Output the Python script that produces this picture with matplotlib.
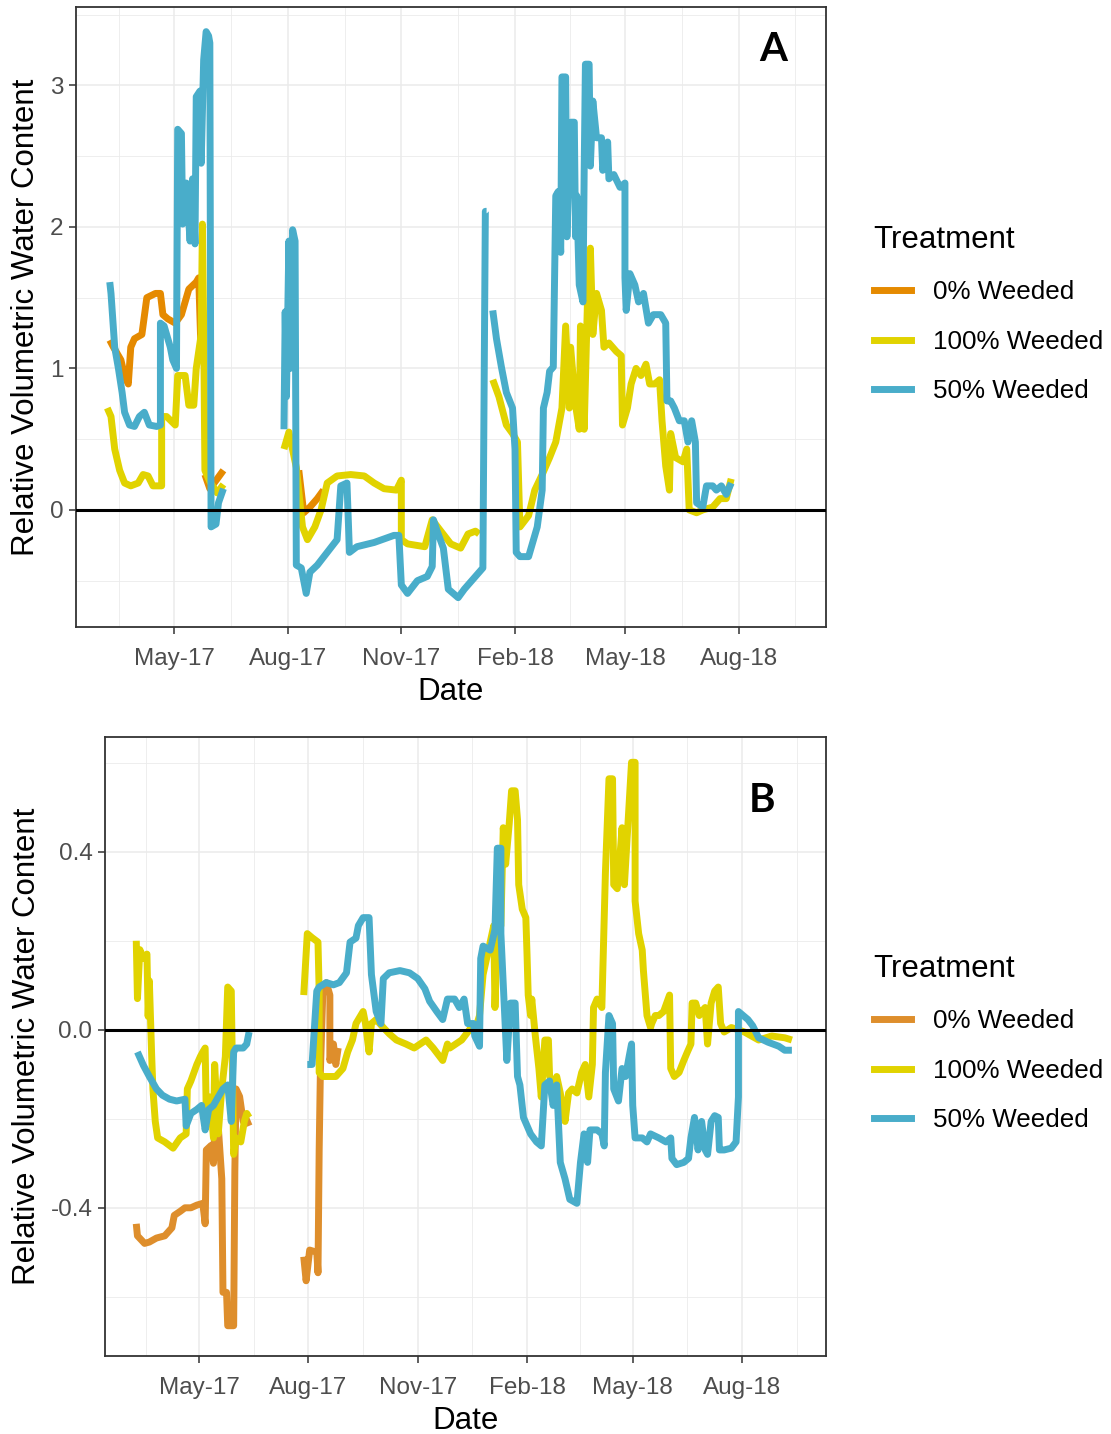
import numpy as np
import pandas as pd
import matplotlib

matplotlib.use("Agg")
import matplotlib.pyplot as plt
import matplotlib.dates as mdates
from matplotlib.lines import Line2D

plt.rcParams["font.family"] = ["Liberation Sans", "DejaVu Sans"]

TREATMENTS = ["0% Weeded", "100% Weeded", "50% Weeded"]

# ---- panel A: relative VWC, gaps marked with None ----
a_w0_dates = [
    "2017-03-10", "2017-03-13", "2017-03-19", "2017-03-22", "2017-03-25", "2017-03-27",
    "2017-03-30", "2017-04-05", "2017-04-09", "2017-04-16", "2017-04-20", "2017-04-22",
    "2017-04-26", "2017-05-02", "2017-05-07", "2017-05-13", "2017-05-19", "2017-05-21",
    "2017-05-23", "2017-05-24", "2017-05-26", "2017-05-30", "2017-06-05", "2017-06-10",
    "2017-07-01", "2017-08-10", "2017-08-14", "2017-08-19", "2017-08-25", "2017-08-30",
]
a_w0_vals = [
    1.20, 1.15, 1.06, 0.95, 0.89, 1.15,
    1.21, 1.24, 1.50, 1.53, 1.53, 1.38,
    1.35, 1.32, 1.38, 1.56, 1.61, 1.64,
    1.09, None, 0.25, 0.15, 0.22, 0.28,
    None, 0.28, -0.02, 0.02, 0.08, 0.14,
]

a_w100_dates = [
    "2017-03-08", "2017-03-11", "2017-03-14", "2017-03-18", "2017-03-22", "2017-03-27",
    "2017-04-02", "2017-04-06", "2017-04-10", "2017-04-14", "2017-04-21", "2017-04-21",
    "2017-04-25", "2017-05-02", "2017-05-04", "2017-05-10", "2017-05-13", "2017-05-17",
    "2017-05-19", "2017-05-23", "2017-05-24", "2017-05-25", "2017-05-26", "2017-05-30",
    "2017-06-05", "2017-06-10", "2017-07-01",
    "2017-07-29", "2017-08-02", "2017-08-08", "2017-08-13", "2017-08-17", "2017-08-23",
    "2017-08-28", "2017-09-02", "2017-09-10", "2017-09-21", "2017-10-02", "2017-10-10",
    "2017-10-18", "2017-10-28", "2017-11-01", "2017-11-01", "2017-11-06", "2017-11-20",
    "2017-11-26", "2017-12-03", "2017-12-11", "2017-12-19", "2017-12-25", "2017-12-31",
    "2018-01-03", "2018-01-08",
    "2018-01-14", "2018-01-19", "2018-01-25", "2018-01-30", "2018-02-03", "2018-02-05",
    "2018-02-12", "2018-02-17", "2018-02-23", "2018-03-01", "2018-03-06", "2018-03-11",
    "2018-03-14", "2018-03-17", "2018-03-18", "2018-03-22", "2018-03-25", "2018-03-26",
    "2018-03-29", "2018-04-01", "2018-04-03", "2018-04-05", "2018-04-08", "2018-04-12",
    "2018-04-14", "2018-04-18", "2018-04-24", "2018-04-28", "2018-04-29", "2018-05-03",
    "2018-05-06", "2018-05-10", "2018-05-14", "2018-05-18", "2018-05-21", "2018-05-25",
    "2018-05-29", "2018-05-31", "2018-06-03", "2018-06-06", "2018-06-07", "2018-06-11",
    "2018-06-17", "2018-06-20", "2018-06-22", "2018-06-28", "2018-07-03", "2018-07-11",
    "2018-07-17", "2018-07-22", "2018-07-26",
]
a_w100_vals = [
    0.72, 0.66, 0.43, 0.28, 0.19, 0.17,
    0.19, 0.25, 0.24, 0.17, 0.17, 0.66,
    0.66, 0.60, 0.95, 0.95, 0.74, 0.74,
    1.00, 1.24, 2.02, 1.30, 0.28, 0.20,
    0.12, 0.18, None,
    0.43, 0.55, 0.30, -0.12, -0.21, -0.12,
    0.00, 0.19, 0.24, 0.25, 0.24, 0.19,
    0.15, 0.14, 0.21, -0.21, -0.24, -0.26,
    -0.07, -0.15, -0.24, -0.27, -0.17, -0.15,
    -0.17, None,
    0.92, 0.80, 0.60, 0.54, 0.48, -0.12,
    -0.04, 0.14, 0.25, 0.37, 0.48, 0.72,
    1.30, 0.72, 1.15, 0.74, 0.57, 1.30,
    0.57, 1.59, 1.85, 1.24, 1.53, 1.41,
    1.15, 1.18, 1.12, 1.09, 0.60, 0.72,
    0.89, 1.00, 0.95, 1.03, 0.89, 0.89,
    0.92, 0.63, 0.31, 0.14, 0.54, 0.37,
    0.34, 0.43, 0.00, -0.02, 0.00, 0.02,
    0.08, 0.08, 0.22,
]

a_w50_dates = [
    "2017-03-10", "2017-03-11", "2017-03-14", "2017-03-17", "2017-03-20", "2017-03-22",
    "2017-03-26", "2017-03-30", "2017-04-03", "2017-04-07", "2017-04-11", "2017-04-17",
    "2017-04-20", "2017-04-20", "2017-04-23", "2017-04-28", "2017-04-30", "2017-05-03",
    "2017-05-04", "2017-05-07", "2017-05-08", "2017-05-11", "2017-05-14", "2017-05-16",
    "2017-05-18", "2017-05-19", "2017-05-22", "2017-05-23", "2017-05-25", "2017-05-27",
    "2017-05-29", "2017-05-30", "2017-05-31", "2017-06-04", "2017-06-06", "2017-06-10",
    "2017-07-01",
    "2017-07-29", "2017-07-30", "2017-07-31", "2017-08-02", "2017-08-03", "2017-08-05",
    "2017-08-07", "2017-08-08", "2017-08-12", "2017-08-16", "2017-08-19", "2017-08-25",
    "2017-09-02", "2017-09-10", "2017-09-13", "2017-09-18", "2017-09-20", "2017-09-26",
    "2017-10-10", "2017-10-26", "2017-10-30", "2017-11-01", "2017-11-06", "2017-11-14",
    "2017-11-22", "2017-11-26", "2017-11-27", "2017-11-30", "2017-12-05", "2017-12-09",
    "2017-12-17", "2017-12-22", "2017-12-31", "2018-01-06", "2018-01-08", "2018-01-09",
    "2018-01-11",
    "2018-01-14", "2018-01-17", "2018-01-21", "2018-01-25", "2018-01-30", "2018-02-01",
    "2018-02-02", "2018-02-05", "2018-02-12", "2018-02-15", "2018-02-19", "2018-02-23",
    "2018-02-24", "2018-02-27", "2018-03-01", "2018-03-04", "2018-03-06", "2018-03-08",
    "2018-03-10", "2018-03-11", "2018-03-14", "2018-03-15", "2018-03-18", "2018-03-21",
    "2018-03-22", "2018-03-23", "2018-03-25", "2018-03-28", "2018-03-29", "2018-03-30",
    "2018-04-02", "2018-04-03", "2018-04-05", "2018-04-08", "2018-04-12", "2018-04-13",
    "2018-04-17", "2018-04-18", "2018-04-22", "2018-04-27", "2018-05-01", "2018-05-01",
    "2018-05-02", "2018-05-05", "2018-05-09", "2018-05-12", "2018-05-16", "2018-05-20",
    "2018-05-24", "2018-05-30", "2018-06-03", "2018-06-04", "2018-06-07", "2018-06-10",
    "2018-06-14", "2018-06-18", "2018-06-21", "2018-06-24", "2018-06-27", "2018-06-28",
    "2018-07-03", "2018-07-06", "2018-07-11", "2018-07-14", "2018-07-18", "2018-07-22",
    "2018-07-26",
]
a_w50_vals = [
    1.61, 1.53, 1.15, 1.00, 0.83, 0.69,
    0.60, 0.59, 0.66, 0.69, 0.60, 0.59,
    0.60, 1.32, 1.30, 1.15, 1.06, 1.00,
    2.69, 2.66, 2.02, 2.31, 1.90, 2.34,
    1.88, 2.92, 2.96, 2.45, 3.18, 3.38,
    3.35, 3.30, -0.12, -0.10, 0.05, 0.15,
    None,
    0.57, 1.40, 0.80, 1.90, 1.00, 1.98,
    1.90, -0.39, -0.41, -0.59, -0.44, -0.39,
    -0.30, -0.21, 0.17, 0.19, -0.30, -0.26,
    -0.23, -0.18, -0.18, -0.53, -0.59, -0.50,
    -0.47, -0.40, -0.07, -0.15, -0.27, -0.56,
    -0.62, -0.56, -0.47, -0.41, 2.11, 2.11,
    None,
    1.41, 1.21, 1.01, 0.83, 0.72, 0.43,
    -0.30, -0.33, -0.33, -0.24, -0.12, 0.14,
    0.72, 0.83, 0.98, 1.01, 2.22, 2.25,
    1.82, 3.06, 3.06, 1.93, 2.74, 2.74,
    1.93, 2.22, 1.59, 1.47, 2.40, 3.15,
    3.15, 2.43, 2.89, 2.63, 2.63, 2.40,
    2.60, 2.34, 2.37, 2.28, 2.31, 1.64,
    1.41, 1.67, 1.59, 1.47, 1.53, 1.32,
    1.38, 1.38, 1.32, 0.77, 0.77, 0.72,
    0.63, 0.63, 0.48, 0.63, 0.48, 0.05,
    0.02, 0.17, 0.17, 0.14, 0.17, 0.11,
    0.19,
]

# ---- panel B ----
b_w0_dates = [
    "2017-03-09", "2017-03-10", "2017-03-16", "2017-03-20", "2017-03-26", "2017-04-02",
    "2017-04-08", "2017-04-10", "2017-04-15", "2017-04-19", "2017-04-24", "2017-04-29",
    "2017-05-04", "2017-05-06", "2017-05-07", "2017-05-11", "2017-05-13", "2017-05-14",
    "2017-05-17", "2017-05-20", "2017-05-21", "2017-05-24", "2017-05-25", "2017-05-30",
    "2017-05-31", "2017-06-01", "2017-06-04", "2017-06-07", "2017-06-09", "2017-06-12",
    "2017-07-01",
    "2017-07-28", "2017-07-30", "2017-08-02", "2017-08-08", "2017-08-09", "2017-08-10",
    "2017-08-11", "2017-08-13", "2017-08-16", "2017-08-19", "2017-08-19", "2017-08-22",
    "2017-08-24", "2017-08-26",
]
b_w0_vals = [
    -0.436, -0.463, -0.480, -0.477, -0.468, -0.463,
    -0.445, -0.417, -0.408, -0.400, -0.400, -0.394,
    -0.390, -0.436, -0.270, -0.260, -0.300, -0.225,
    -0.216, -0.335, -0.590, -0.590, -0.665, -0.665,
    -0.317, -0.133, -0.150, -0.206, -0.197, -0.216,
    None,
    -0.510, -0.564, -0.495, -0.500, -0.546, -0.270,
    -0.096, 0.078, 0.106, 0.078, -0.069, -0.032,
    -0.078, -0.041,
]

b_w100_dates = [
    "2017-03-09", "2017-03-10", "2017-03-12", "2017-03-15", "2017-03-18", "2017-03-19",
    "2017-03-20", "2017-03-22", "2017-03-23", "2017-03-25", "2017-03-27", "2017-04-02",
    "2017-04-09", "2017-04-15", "2017-04-20", "2017-04-21", "2017-04-24", "2017-04-29",
    "2017-05-02", "2017-05-04", "2017-05-06", "2017-05-07", "2017-05-10", "2017-05-13",
    "2017-05-14", "2017-05-17", "2017-05-20", "2017-05-23", "2017-05-25", "2017-05-28",
    "2017-05-30", "2017-06-01", "2017-06-05", "2017-06-08", "2017-06-10", "2017-06-12",
    "2017-07-01",
    "2017-07-28", "2017-07-31", "2017-08-04", "2017-08-09", "2017-08-10", "2017-08-10",
    "2017-08-13", "2017-08-19", "2017-08-24", "2017-08-30", "2017-09-03", "2017-09-07",
    "2017-09-10", "2017-09-14", "2017-09-16", "2017-09-18", "2017-09-21", "2017-09-23",
    "2017-09-27", "2017-10-03", "2017-10-08", "2017-10-14", "2017-10-22", "2017-10-29",
    "2017-11-03", "2017-11-08", "2017-11-14", "2017-11-22", "2017-11-26", "2017-11-28",
    "2017-12-03", "2017-12-08", "2017-12-12", "2017-12-16", "2017-12-21", "2017-12-23",
    "2017-12-26", "2017-12-29", "2018-01-01", "2018-01-04", "2018-01-05", "2018-01-07",
    "2018-01-10", "2018-01-12", "2018-01-14", "2018-01-17", "2018-01-19", "2018-01-22",
    "2018-01-24", "2018-01-25", "2018-01-28", "2018-01-31", "2018-02-01", "2018-02-02",
    "2018-02-04", "2018-02-05", "2018-02-08", "2018-02-11", "2018-02-13", "2018-02-16",
    "2018-02-19", "2018-02-20", "2018-02-23", "2018-02-26", "2018-03-01", "2018-03-04",
    "2018-03-05", "2018-03-08", "2018-03-11", "2018-03-15", "2018-03-19", "2018-03-22",
    "2018-03-25", "2018-03-28", "2018-03-29", "2018-04-01", "2018-04-05", "2018-04-08",
    "2018-04-11", "2018-04-14", "2018-04-15", "2018-04-18", "2018-04-21", "2018-04-22",
    "2018-04-24", "2018-04-26", "2018-04-30", "2018-05-03", "2018-05-03", "2018-05-06",
    "2018-05-09", "2018-05-10", "2018-05-13", "2018-05-16", "2018-05-17", "2018-05-20",
    "2018-05-23", "2018-05-27", "2018-06-01", "2018-06-02", "2018-06-05", "2018-06-09",
    "2018-06-13", "2018-06-16", "2018-06-19", "2018-06-20", "2018-06-23", "2018-06-26",
    "2018-06-28", "2018-07-01", "2018-07-03", "2018-07-06", "2018-07-09", "2018-07-12",
    "2018-07-14", "2018-07-17", "2018-07-23", "2018-07-29", "2018-08-03", "2018-08-09",
    "2018-08-15", "2018-08-26", "2018-09-06", "2018-09-12",
]
b_w100_vals = [
    0.200, 0.070, 0.180, 0.160, 0.170, 0.030,
    0.110, -0.060, -0.133, -0.206, -0.243, -0.252,
    -0.266, -0.243, -0.234, -0.133, -0.115, -0.078,
    -0.060, -0.050, -0.041, -0.197, -0.151, -0.243,
    -0.078, -0.234, -0.133, -0.060, 0.096, 0.087,
    -0.280, -0.243, -0.252, -0.206, -0.188, -0.197,
    None,
    0.078, 0.216, 0.207, 0.197, 0.087, -0.096,
    -0.105, -0.105, -0.105, -0.087, -0.050, -0.023,
    0.014, 0.032, 0.041, 0.014, -0.050, 0.014,
    0.023, 0.005, -0.009, -0.023, -0.032, -0.041,
    -0.032, -0.023, -0.041, -0.069, -0.032, -0.041,
    -0.032, -0.023, -0.009, 0.005, 0.014, 0.032,
    0.124, 0.160, 0.197, 0.234, 0.050, 0.216,
    0.234, 0.454, 0.372, 0.463, 0.537, 0.537,
    0.472, 0.326, 0.271, 0.252, 0.170, 0.078,
    0.032, 0.069, -0.014, -0.087, -0.151, -0.023,
    -0.023, -0.105, -0.124, -0.105, -0.142, -0.188,
    -0.206, -0.142, -0.133, -0.142, -0.096, -0.078,
    -0.151, -0.078, 0.050, 0.069, 0.050, 0.353,
    0.564, 0.564, 0.326, 0.317, 0.417, 0.454,
    0.326, 0.417, 0.601, 0.601, 0.289, 0.216,
    0.179, 0.133, 0.032, 0.005, 0.014, 0.032,
    0.032, 0.041, 0.078, -0.087, -0.105, -0.096,
    -0.069, -0.050, -0.032, 0.060, 0.060, 0.032,
    0.041, 0.050, -0.032, 0.060, 0.087, 0.096,
    0.014, -0.005, 0.005, 0.000, -0.005, -0.014,
    -0.023, -0.014, -0.018, -0.023,
]

b_w50_dates = [
    "2017-03-10", "2017-03-15", "2017-03-20", "2017-03-26", "2017-03-31", "2017-04-06",
    "2017-04-12", "2017-04-19", "2017-04-20", "2017-04-24", "2017-04-29", "2017-05-03",
    "2017-05-06", "2017-05-09", "2017-05-13", "2017-05-17", "2017-05-21", "2017-05-25",
    "2017-05-28", "2017-05-30", "2017-06-01", "2017-06-07", "2017-06-10", "2017-06-12",
    "2017-07-01",
    "2017-07-31", "2017-08-04", "2017-08-08", "2017-08-10", "2017-08-16", "2017-08-22",
    "2017-08-27", "2017-09-02", "2017-09-05", "2017-09-10", "2017-09-12", "2017-09-16",
    "2017-09-21", "2017-09-23", "2017-09-27", "2017-10-01", "2017-10-03", "2017-10-08",
    "2017-10-17", "2017-10-25", "2017-11-01", "2017-11-07", "2017-11-11", "2017-11-17",
    "2017-11-22", "2017-11-26", "2017-12-02", "2017-12-06", "2017-12-10", "2017-12-12",
    "2017-12-13", "2017-12-18", "2017-12-19", "2017-12-23", "2017-12-24", "2017-12-26",
    "2018-01-01", "2018-01-05", "2018-01-07", "2018-01-10", "2018-01-10", "2018-01-15",
    "2018-01-18", "2018-01-22", "2018-01-24", "2018-01-26", "2018-01-29", "2018-02-04",
    "2018-02-09", "2018-02-13", "2018-02-16", "2018-02-20", "2018-02-23", "2018-02-26",
    "2018-03-01", "2018-03-05", "2018-03-09", "2018-03-15", "2018-03-18", "2018-03-21",
    "2018-03-24", "2018-03-26", "2018-04-01", "2018-04-05", "2018-04-07", "2018-04-08",
    "2018-04-11", "2018-04-14", "2018-04-15", "2018-04-19", "2018-04-22", "2018-04-25",
    "2018-04-28", "2018-04-30", "2018-05-01", "2018-05-03", "2018-05-09", "2018-05-13",
    "2018-05-16", "2018-05-23", "2018-05-29", "2018-06-02", "2018-06-03", "2018-06-07",
    "2018-06-13", "2018-06-17", "2018-06-19", "2018-06-22", "2018-06-25", "2018-06-28",
    "2018-07-01", "2018-07-03", "2018-07-06", "2018-07-09", "2018-07-12", "2018-07-13",
    "2018-07-17", "2018-07-23", "2018-07-27", "2018-07-29", "2018-07-29", "2018-08-02",
    "2018-08-06", "2018-08-10", "2018-08-15", "2018-08-23", "2018-09-01", "2018-09-06",
    "2018-09-12",
]
b_w50_vals = [
    -0.050, -0.080, -0.105, -0.133, -0.147, -0.156,
    -0.160, -0.156, -0.216, -0.188, -0.179, -0.170,
    -0.225, -0.179, -0.170, -0.151, -0.133, -0.124,
    -0.206, -0.050, -0.041, -0.041, -0.032, -0.005,
    None,
    -0.078, -0.078, 0.087, 0.096, 0.106, 0.101,
    0.106, 0.128, 0.197, 0.206, 0.234, 0.252,
    0.252, 0.124, 0.041, 0.014, 0.115, 0.128,
    0.133, 0.128, 0.115, 0.092, 0.064, 0.041,
    0.023, 0.069, 0.069, 0.050, 0.069, 0.032,
    0.014, 0.014, -0.014, -0.037, 0.160, 0.188,
    0.179, 0.225, 0.408, 0.408, 0.216, -0.069,
    0.060, 0.060, -0.105, -0.124, -0.197, -0.234,
    -0.252, -0.261, -0.124, -0.115, -0.170, -0.124,
    -0.298, -0.335, -0.381, -0.390, -0.298, -0.234,
    -0.298, -0.225, -0.225, -0.234, -0.261, -0.096,
    0.032, 0.014, -0.133, -0.160, -0.087, -0.105,
    -0.060, -0.032, -0.170, -0.243, -0.243, -0.252,
    -0.234, -0.243, -0.252, -0.243, -0.289, -0.303,
    -0.298, -0.289, -0.243, -0.197, -0.270, -0.206,
    -0.270, -0.280, -0.206, -0.193, -0.197, -0.270,
    -0.270, -0.266, -0.252, -0.151, 0.041, 0.032,
    0.023, 0.009, -0.018, -0.028, -0.037, -0.046,
    -0.046,
]

COLORS_A = ["#E58A00", "#E1D300", "#49ADCA"]
COLORS_B = ["#DE8E2C", "#E1D300", "#49ADCA"]

MAJOR_DATES = pd.to_datetime(["2017-02-01", "2017-05-01", "2017-08-01", "2017-11-01",
                              "2018-02-01", "2018-05-01", "2018-08-01", "2018-11-01"])


def style_axes(ax, ylim, yticks, yminor, ylabel_x):
    ax.set_xlim(pd.Timestamp("2017-02-10 16:00"), pd.Timestamp("2018-10-10 18:00"))
    ax.set_ylim(*ylim)
    ax.xaxis.set_major_locator(mdates.MonthLocator(bymonth=[2, 5, 8, 11]))
    ax.xaxis.set_major_formatter(mdates.DateFormatter("%b-%y"))
    mids = mdates.date2num(MAJOR_DATES[:-1]) + np.diff(mdates.date2num(MAJOR_DATES)) / 2
    ax.set_xticks(mids, minor=True)
    ax.set_yticks(yticks)
    ax.set_yticks(yminor, minor=True)
    ax.grid(which="major", color="#EBEBEB", lw=1.1)
    ax.grid(which="minor", color="#EBEBEB", lw=0.6)
    ax.set_axisbelow(True)
    ax.tick_params(which="major", length=5, width=1.1, color="#333333",
                   labelsize=17.5, labelcolor="#4D4D4D")
    ax.tick_params(axis="x", which="major", pad=10)
    ax.tick_params(axis="y", which="major", pad=4)
    ax.tick_params(which="minor", length=0)
    for s in ax.spines.values():
        s.set_color("#333333")
        s.set_linewidth(1.3)
    ax.set_xlabel("Date", fontsize=22.5, labelpad=5)
    ax.set_ylabel("Relative Volumetric Water Content", fontsize=22.5)
    ax.yaxis.set_label_coords(ylabel_x, 0.5)


def draw_panel(ax, series, colors, letter, letter_xy, legend_y):
    for (dates, vals), color in zip(series, colors):
        ax.plot(pd.to_datetime(dates), np.array(vals, dtype=float), color=color,
                lw=5, solid_joinstyle="round", solid_capstyle="butt")
    ax.axhline(0, color="black", lw=2.2, zorder=5)
    ax.text(*letter_xy, letter, transform=ax.transAxes, fontsize=29, fontweight="bold",
            family=["Lato", "DejaVu Sans"], ha="center", va="center")
    handles = [Line2D([], [], color=c, lw=5) for c in colors]
    ax.legend(handles, TREATMENTS, title="Treatment", frameon=False,
              loc="center left", bbox_to_anchor=(0.777, legend_y),
              bbox_transform=ax.figure.transFigure, fontsize=18.7,
              title_fontsize=22.5, handlelength=1.45, handletextpad=0.85,
              labelspacing=0.97, alignment="left", borderaxespad=0)


fig = plt.figure(figsize=(11.11, 14.34), dpi=100)
ax_a = fig.add_axes([0.0684, 0.5628, 0.6751, 0.4324])
ax_b = fig.add_axes([0.0945, 0.0544, 0.6490, 0.4317])

draw_panel(ax_a, [(a_w0_dates, a_w0_vals), (a_w100_dates, a_w100_vals),
                  (a_w50_dates, a_w50_vals)], COLORS_A, "A", (0.929, 0.931), 1 - 314 / 1434)
style_axes(ax_a, (-0.827, 3.555), [0, 1, 2, 3], [-0.5, 0.5, 1.5, 2.5, 3.5], -0.046)

draw_panel(ax_b, [(b_w0_dates, b_w0_vals), (b_w100_dates, b_w100_vals),
                  (b_w50_dates, b_w50_vals)], COLORS_B, "B", (0.911, 0.898), 1 - 1043 / 1434)
style_axes(ax_b, (-0.733, 0.658), [-0.4, 0.0, 0.4], [-0.6, -0.2, 0.2, 0.6], -0.0875)
ax_b.yaxis.set_major_formatter(matplotlib.ticker.FormatStrFormatter("%.1f"))

fig.savefig("out.png", dpi=100)
